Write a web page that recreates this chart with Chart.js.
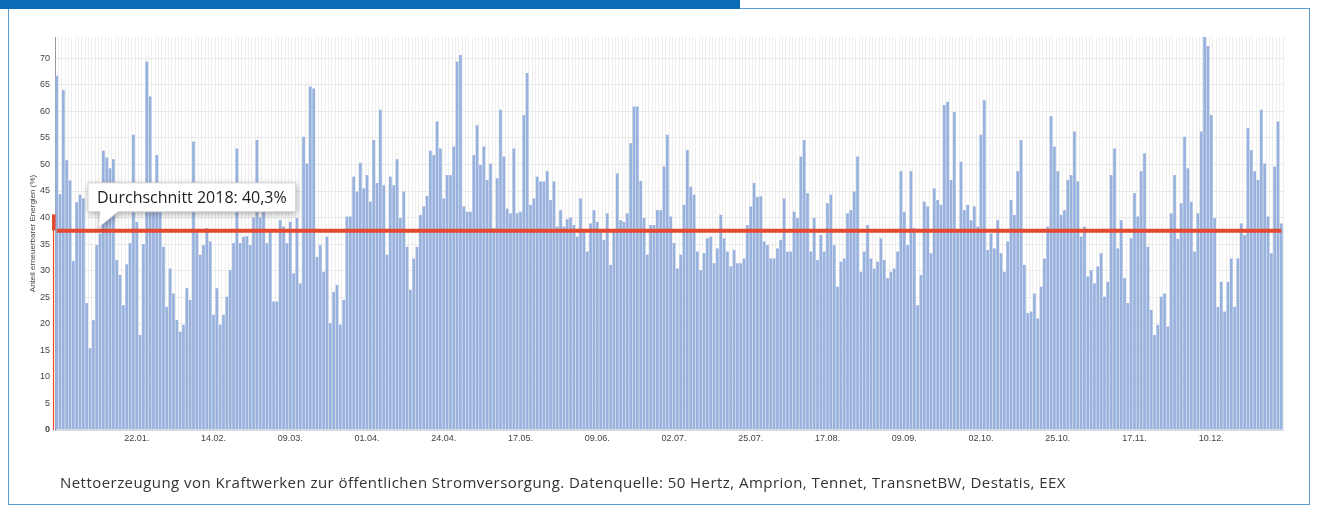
<!DOCTYPE html>
<html><head><meta charset="utf-8">
<script src="https://cdn.jsdelivr.net/npm/chart.js@4"></script>
<style>
html,body{margin:0;padding:0;background:#fff;}
body{width:1319px;height:510px;position:relative;overflow:hidden;}
#hdr{position:absolute;left:0;top:0;width:740px;height:9px;background:#0a6cb4;}
#frame{position:absolute;left:8px;top:8px;width:1302px;height:497px;border:1px solid #5d9bd3;box-sizing:border-box;}
#wrap{position:absolute;left:0;top:0;width:1319px;height:510px;}
#cap{position:absolute;left:60px;top:472px;font-family:'Open Sans',sans-serif;font-size:15px;color:#333;white-space:nowrap;letter-spacing:0.45px;}
</style>
</head><body>
<div id="frame"></div>
<div id="hdr"></div>
<div id="wrap"><canvas id="c" width="1319" height="510"></canvas></div>
<div id="cap">Nettoerzeugung von Kraftwerken zur öffentlichen Stromversorgung. Datenquelle: 50 Hertz, Amprion, Tennet, TransnetBW, Destatis, EEX</div>
<script>
// Daily share of renewable energy (%)
const values = [
66.7,44.4,64,50.8,47,31.8,42.9,44.3,43.6,23.9,15.4,20.7,34.8,37,52.6,51.3,49.3,51,32,29.2,23.5,31.2,35.2,55.6,39.2,17.9,
35,69.4,62.8,44,51.8,44,34.5,23.2,30.4,25.7,20.7,18.5,19.8,26.7,24.5,54.3,37.5,33,34.8,38,35.5,21.7,26.7,19.8,21.7,25.1,30.1,35.2,53,35.2,36.4,
36.5,34.8,40,54.6,40,42,35.2,37.4,24.2,24.2,39.5,38.3,35.2,39.2,29.5,39.9,27.6,55.2,50.2,64.7,64.3,32.6,34.8,29.8,36.4,20.1,26,27.3,19.8,24.5,40.2,
40.2,47.7,44.9,50.3,45.5,48,43,54.6,46.5,60.3,46.1,33,47.7,46.1,51,39.9,44.9,34.5,26.4,32.3,34.5,40.5,42.1,44.1,52.6,51.8,58.1,53,43.6,48,48,
53.4,69.4,70.6,42.1,41.1,41.1,51.8,57.4,49.9,53.4,47.1,50.2,38,47.4,60.3,51.5,41.7,40.8,53,40.8,41.1,59.3,67.2,42.4,43.6,47.7,46.8,46.8,48.7,43.3,46.8,
38.3,41.4,38.3,39.7,40,38.6,36.4,43.6,37.7,33.6,38.9,41.4,39.2,37.7,35.8,40.8,31.1,37.7,48.3,39.5,39.2,40.8,54,60.9,60.9,46.9,39.9,33,38.6,38.6,41.4,
41.4,49.6,55.6,40.2,35.2,30.4,33,42.4,52.7,45.8,44.3,33.6,30.1,33.3,36.1,36.4,31.4,34.2,40.5,36.1,33.6,30.8,33.9,31.4,31.4,32.3,38.6,42.1,46.5,43.9,44,
35.5,34.8,32.3,32.3,34.2,35.8,43.6,33.6,33.6,41.1,39.9,51.5,54.6,44.6,33.6,39.9,32,36.7,33.6,42.7,44.3,34.8,27,31.7,32.3,40.8,41.4,44.9,51.5,29.8,33.6,
38.6,32.3,30.4,31.7,36.1,32,28.6,29.8,30.4,33.6,48.7,41.1,34.8,48.7,38,23.5,29.2,43,42.1,33.3,45.5,43.3,42.4,61.2,61.8,47.1,59.9,37.7,50.5,41.4,42.4,
39.5,42.1,38.3,55.6,62.1,33.9,37,34.2,39.5,33.3,29.8,35.5,43.3,40.5,48.7,54.6,31.1,22,22.3,25.7,21,27,32.3,38.3,59.1,53.4,48.7,40.5,41.4,47.1,48,
56.2,46.8,36.4,38.3,28.9,30.1,27.6,30.8,33.3,25.1,27.9,48,53,34.2,39.5,28.6,23.9,36.1,44.6,40.2,48.7,52.1,34.5,22.6,17.9,19.8,25.1,25.7,19.5,40.8,48,
36,42.7,55.2,49.3,43,33.6,40.8,56.2,74,72.3,59.3,39.9,23.2,27.9,22.3,27.9,32.3,23.2,32.3,38.9,36.7,56.8,52.7,48.7,47.1,60.3,50.2,40.2,33.3,49.6,58.1,38.9
];
const tickLabels = ['22.01.','14.02.','09.03.','01.04.','24.04.','17.05.','09.06.','02.07.','25.07.','17.08.','09.09.','02.10.','25.10.','17.11.','10.12.'];
const firstTickIndex = 24;
const tickStep = 23;
const averageValue = 37.5;
const averageLabel = 'Durchschnitt 2018: 40,3%';
const yAxisTitle = 'Anteil erneuerbarer Energien (%)';
const yMax = 74;
const yStep = 5;

const categories = values.map((v, i) => i);
const averageLine = values.map(() => averageValue);

const calloutPlugin = {
  id: 'callout',
  afterDatasetsDraw(chart) {
    const ctx = chart.ctx, ca = chart.chartArea, ys = chart.scales.y;
    const ly = ys.getPixelForValue(averageValue);
    ctx.save();
    ctx.strokeStyle = '#e2492f';
    ctx.lineWidth = 1.2;
    ctx.beginPath();
    ctx.moveTo(ca.left - 1.5, ys.getPixelForValue(0));
    ctx.lineTo(ca.left - 1.5, ys.getPixelForValue(40.3));
    ctx.stroke();
    ctx.fillStyle = '#e2492f';
    const t1 = ys.getPixelForValue(40.6), t2 = ys.getPixelForValue(37.6);
    ctx.fillRect(ca.left - 3, t1, 3.5, t2 - t1);
    ctx.font = '16px "Open Sans", sans-serif';
    const tw = ctx.measureText(averageLabel).width;
    const bx = ca.left + 33, bw = tw + 18, bh = 29;
    const by = ly - 19 - bh;
    ctx.shadowColor = 'rgba(0,0,0,0.35)';
    ctx.shadowBlur = 6; ctx.shadowOffsetX = 1; ctx.shadowOffsetY = 2;
    ctx.fillStyle = '#fff';
    ctx.beginPath();
    ctx.moveTo(bx, by);
    ctx.lineTo(bx + bw, by);
    ctx.lineTo(bx + bw, by + bh);
    ctx.lineTo(bx + 30, by + bh);
    ctx.lineTo(bx + 10, ly - 3);
    ctx.lineTo(bx + 12, by + bh);
    ctx.lineTo(bx, by + bh);
    ctx.closePath();
    ctx.fill();
    ctx.shadowColor = 'transparent';
    ctx.strokeStyle = '#d0d0d0'; ctx.lineWidth = 1;
    ctx.stroke();
    ctx.fillStyle = '#1e1e1e';
    ctx.textBaseline = 'middle';
    ctx.fillText(averageLabel, bx + 9, by + bh / 2 + 1);
    ctx.restore();
  }
};

Chart.defaults.font.family = '"Liberation Sans", Arial, sans-serif';
new Chart(document.getElementById('c'), {
  type: 'bar',
  data: {
    labels: categories,
    datasets: [
      { type: 'line', data: averageLine, borderColor: '#e2492f', borderWidth: 4, pointRadius: 0, fill: false, order: 0 },
      { type: 'bar', data: values, backgroundColor: '#98b2df', borderWidth: 0, barPercentage: 0.82, categoryPercentage: 1.0, order: 1 }
    ]
  },
  options: {
    responsive: false, animation: false,
    layout: { padding: { left: 28, right: 36, top: 37, bottom: 0 } },
    plugins: { legend: { display: false }, tooltip: { enabled: false } },
    scales: {
      x: {
        grid: { color: '#ededed', lineWidth: 1, drawTicks: false },
        border: { color: '#d8d8d8' },
        ticks: {
          autoSkip: false, maxRotation: 0, minRotation: 0, padding: 3,
          color: '#444', font: { size: 9 },
          callback: (v, i) => (i >= firstTickIndex && (i - firstTickIndex) % tickStep === 0) ? (tickLabels[(i - firstTickIndex) / tickStep] || '') : ''
        },
        afterFit: s => { s.height = 80; }
      },
      y: {
        min: 0, max: yMax,
        grid: { color: '#e9e9e9', drawTicks: false },
        border: { color: '#9a9a9a' },
        ticks: {
          stepSize: yStep, padding: 5, color: '#444',
          font: c => ({ size: 9, weight: c.tick && c.tick.value === 0 ? 'bold' : 'normal' })
        },
        afterBuildTicks: s => { s.ticks = s.ticks.filter(t => t.value % yStep === 0); },
        title: { display: true, text: yAxisTitle, font: { size: 8 }, color: '#444', padding: 0 },
        afterFit: s => { s.width = 27; }
      }
    }
  },
  plugins: [calloutPlugin]
});
</script>
</body></html>
